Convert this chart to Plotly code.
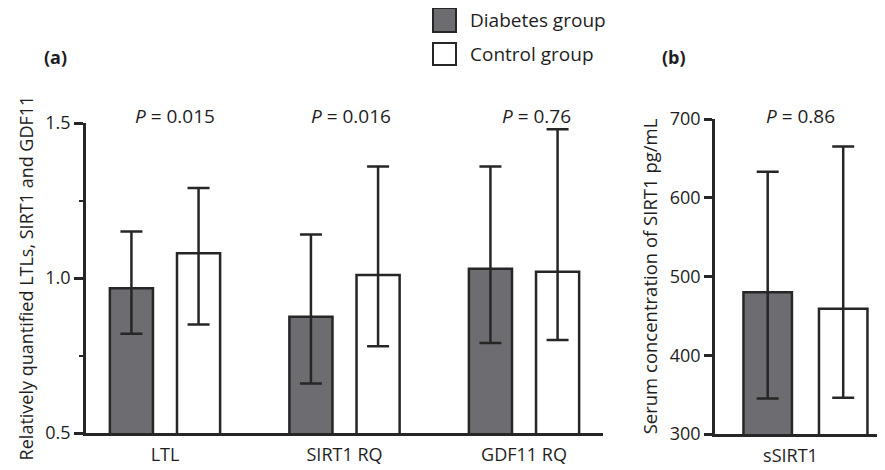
import plotly.graph_objects as go

# ---------------- data ----------------
categories = ["LTL", "SIRT1 RQ", "GDF11 RQ"]
diabetes_mean = [0.967, 0.875, 1.03]
diabetes_upper = [1.15, 1.14, 1.36]
diabetes_lower = [0.82, 0.66, 0.79]
control_mean = [1.08, 1.01, 1.02]
control_upper = [1.29, 1.36, 1.48]
control_lower = [0.85, 0.78, 0.80]
p_values_a = ["0.015", "0.016", "0.76"]

serum_category = ["sSIRT1"]
serum_diabetes_mean = [480]
serum_diabetes_upper = [633]
serum_diabetes_lower = [345]
serum_control_mean = [459]
serum_control_upper = [665]
serum_control_lower = [346]
p_values_b = ["0.86"]

group_names = ["Diabetes group", "Control group"]

# ---------------- style ----------------
W, H = 885, 470
OFF = 8  # page body margin offset
FONT = "Open Sans"
INK = "#262626"
TXT = "#1e1e1e"
DARK = "#6d6d71"
LW = 2.5


def px_x(p):
    return (p - OFF) / W


def px_y(p):
    return 1 - (p - OFF) / H


def err(mean, upper, lower):
    return dict(type="data", symmetric=False,
                array=[u - m for u, m in zip(upper, mean)],
                arrayminus=[m - l for m, l in zip(mean, lower)],
                color=INK, thickness=LW, width=11)


fig = go.Figure()
fig.add_trace(go.Bar(x=categories, y=diabetes_mean, name=group_names[0],
                     marker=dict(color=DARK, line=dict(color=INK, width=LW)),
                     error_y=err(diabetes_mean, diabetes_upper, diabetes_lower),
                     xaxis="x", yaxis="y", showlegend=False))
fig.add_trace(go.Bar(x=categories, y=control_mean, name=group_names[1],
                     marker=dict(color="white", line=dict(color=INK, width=LW)),
                     error_y=err(control_mean, control_upper, control_lower),
                     xaxis="x", yaxis="y", showlegend=False))
fig.add_trace(go.Bar(x=serum_category, y=serum_diabetes_mean, name=group_names[0],
                     marker=dict(color=DARK, line=dict(color=INK, width=LW)),
                     error_y=err(serum_diabetes_mean, serum_diabetes_upper, serum_diabetes_lower),
                     xaxis="x2", yaxis="y2", showlegend=False))
fig.add_trace(go.Bar(x=serum_category, y=serum_control_mean, name=group_names[1],
                     marker=dict(color="white", line=dict(color=INK, width=LW)),
                     error_y=err(serum_control_mean, serum_control_upper, serum_control_lower),
                     xaxis="x2", yaxis="y2", showlegend=False))

axis_common = dict(showline=True, linecolor=INK, linewidth=LW, showgrid=False,
                   zeroline=False, tickfont=dict(family=FONT, size=18, color=TXT),
                   automargin=False)

fig.update_layout(
    width=W, height=H,
    margin=dict(l=0, r=0, t=0, b=0),
    paper_bgcolor="white", plot_bgcolor="white",
    barmode="group", bargap=0.252, bargroupgap=0.358,
    font=dict(family=FONT, color=TXT),
    xaxis=dict(domain=[px_x(86), px_x(603)], range=[-0.44, 2.44], anchor="y",
               ticks="", ticklabelstandoff=4, **axis_common),
    yaxis=dict(domain=[px_y(433), px_y(123)], range=[0.5, 1.5], anchor="x",
               tickvals=[0.5, 1.0, 1.5], ticktext=["0.5", "1.0", "1.5"],
               ticks="outside", ticklen=9, tickwidth=LW, tickcolor=INK,
               minor=dict(tickvals=[0.75, 1.25], ticks="outside", ticklen=4,
                          tickwidth=2, tickcolor=INK),
               title=dict(text="Relatively quantified LTLs, SIRT1 and GDF11",
                          font=dict(family=FONT, size=18, color=TXT), standoff=8),
               **axis_common),
    xaxis2=dict(domain=[px_x(715), px_x(885)], range=[-0.448, 0.394], anchor="y2",
                ticks="", ticklabelstandoff=4, ticklabelshift=-15, **axis_common),
    yaxis2=dict(domain=[px_y(434), px_y(119)], range=[300, 700], anchor="x2",
                tickvals=[300, 400, 500, 600, 700],
                ticks="outside", ticklen=8, tickwidth=LW, tickcolor=INK,
                title=dict(text="Serum concentration of SIRT1 pg/mL",
                           font=dict(family=FONT, size=18.5, color=TXT), standoff=8),
                **axis_common),
)

annotations = []
# P values
p_shift = [10, 6, 12]
for i, p in enumerate(p_values_a):
    annotations.append(dict(x=i, y=px_y(101), xref="x", yref="paper", xshift=p_shift[i],
                            xanchor="center", text=f"<i>P</i> = {p}", showarrow=False,
                            font=dict(family=FONT, size=19, color=TXT)))
for i, p in enumerate(p_values_b):
    annotations.append(dict(x=i, y=px_y(101), xref="x2", yref="paper", xshift=-5,
                            xanchor="center", text=f"<i>P</i> = {p}", showarrow=False,
                            font=dict(family=FONT, size=19, color=TXT)))
# panel labels
annotations.append(dict(x=px_x(55), y=px_y(57), xref="paper", yref="paper", text="<b>(a)</b>",
                        xanchor="center", yanchor="middle", showarrow=False,
                        font=dict(family=FONT, size=18, color=TXT)))
annotations.append(dict(x=px_x(674), y=px_y(57), xref="paper", yref="paper", text="<b>(b)</b>",
                        xanchor="center", yanchor="middle", showarrow=False,
                        font=dict(family=FONT, size=18, color=TXT)))

# legend (manual, large swatches)
shapes = []
legend_rows = [(8, 32, DARK), (43, 65, "white")]
for (y0, y1, col), name in zip(legend_rows, group_names):
    shapes.append(dict(type="rect", xref="paper", yref="paper",
                       x0=px_x(433), x1=px_x(456), y0=px_y(y1), y1=px_y(y0),
                       fillcolor=col, line=dict(color=INK, width=2)))
    annotations.append(dict(x=px_x(468), y=px_y((y0 + y1) / 2), xref="paper", yref="paper",
                            xanchor="left", yanchor="middle", text=name, showarrow=False,
                            font=dict(family=FONT, size=19, color=TXT)))

fig.update_layout(annotations=annotations, shapes=shapes)
fig.write_html("out.html")
